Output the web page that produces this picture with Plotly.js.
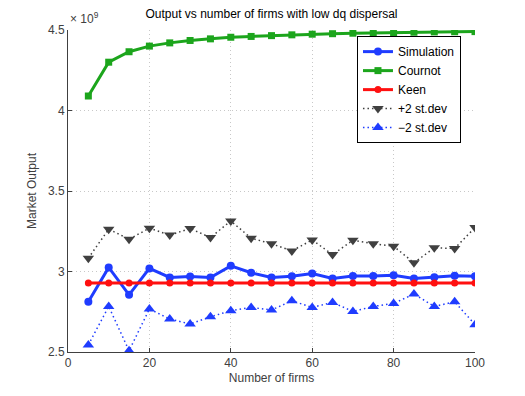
<!DOCTYPE html>
<html>
<head>
<meta charset="utf-8">
<script src="https://cdn.plot.ly/plotly-3.0.1.min.js"></script>
<style>
  html, body { margin: 0; padding: 0; background: #fff; }
  #chart { width: 525px; height: 396px; }
</style>
</head>
<body>
<div id="chart"></div>
<script>
// Market output (in units of 1e9) vs number of firms
const firms = [5, 10, 15, 20, 25, 30, 35, 40, 45, 50, 55, 60, 65, 70, 75, 80, 85, 90, 95, 100];

const simulation = [2.812, 3.025, 2.855, 3.019, 2.963, 2.969, 2.963, 3.035, 2.992, 2.963,
                    2.970, 2.988, 2.957, 2.972, 2.972, 2.976, 2.957, 2.965, 2.973, 2.970];
const cournot = [4.09, 4.30, 4.365, 4.40, 4.42, 4.435, 4.445, 4.455, 4.46, 4.465,
                 4.47, 4.474, 4.477, 4.48, 4.482, 4.484, 4.486, 4.488, 4.489, 4.49];
const keen = [2.928, 2.928, 2.928, 2.928, 2.928, 2.928, 2.928, 2.928, 2.928, 2.928,
              2.928, 2.928, 2.928, 2.928, 2.928, 2.928, 2.928, 2.928, 2.928, 2.928];
const plus2sd = [3.083, 3.263, 3.201, 3.269, 3.226, 3.267, 3.211, 3.314, 3.207, 3.172,
                 3.128, 3.196, 3.105, 3.194, 3.172, 3.157, 3.054, 3.147, 3.143, 3.273];
const minus2sd = [2.544, 2.783, 2.508, 2.767, 2.705, 2.674, 2.719, 2.756, 2.777, 2.761,
                  2.818, 2.777, 2.808, 2.752, 2.783, 2.802, 2.860, 2.783, 2.812, 2.670];

const xTicks = [0, 20, 40, 60, 80, 100];
const yTicks = [2.5, 3, 3.5, 4, 4.5];

const font = 'Liberation Sans, Arial, Helvetica, sans-serif';

const data = [{
    x: firms, y: simulation, name: 'Simulation',
    type: 'scatter', mode: 'lines+markers',
    line: { color: '#1f3cff', width: 3 },
    marker: { symbol: 'circle', size: 8, color: '#1f3cff' }
}, {
    x: firms, y: cournot, name: 'Cournot',
    type: 'scatter', mode: 'lines+markers',
    line: { color: '#1ca51c', width: 3 },
    marker: { symbol: 'square', size: 7, color: '#1ca51c' }
}, {
    x: firms, y: keen, name: 'Keen',
    type: 'scatter', mode: 'lines+markers',
    line: { color: '#ff1010', width: 3 },
    marker: { symbol: 'circle', size: 7, color: '#ff1010' }
}, {
    x: firms, y: plus2sd, name: '+2 st.dev',
    type: 'scatter', mode: 'lines+markers',
    line: { color: '#404040', width: 1.5, dash: '1.5px,3px' },
    marker: { symbol: 'triangle-down', size: 10, color: '#404040' }
}, {
    x: firms, y: minus2sd, name: '\u22122 st.dev',
    type: 'scatter', mode: 'lines+markers',
    line: { color: '#1f3cff', width: 1.5, dash: '1.5px,3px' },
    marker: { symbol: 'triangle-up', size: 10, color: '#1f3cff' }
}];

const layout = {
    width: 525, height: 396,
    margin: { l: 68, r: 50, t: 30, b: 44 },
    paper_bgcolor: '#fff', plot_bgcolor: '#fff',
    font: { family: font, size: 12, color: '#404040' },
    title: {
        text: 'Output vs number of firms with low dq dispersal',
        font: { family: font, size: 12, color: '#000' },
        x: 0.5, xref: 'paper', y: 0.975, yanchor: 'top'
    },
    xaxis: {
        range: [0, 100], tickvals: xTicks, ticktext: xTicks.map(String),
        showgrid: true, gridcolor: '#c8c8c8', griddash: '1px,3px', gridwidth: 1,
        showline: true, linecolor: '#404040', linewidth: 1,
        ticks: 'inside', ticklen: 4, tickcolor: '#404040',
        zeroline: false,
        title: { text: 'Number of firms', font: { family: font, size: 12, color: '#404040' }, standoff: 4 }
    },
    yaxis: {
        range: [2.5, 4.5], tickvals: yTicks, ticktext: yTicks.map(String),
        showgrid: true, gridcolor: '#c8c8c8', griddash: '1px,3px', gridwidth: 1,
        showline: true, linecolor: '#404040', linewidth: 1,
        ticks: 'inside', ticklen: 4, tickcolor: '#404040',
        zeroline: false,
        title: { text: 'Market Output', font: { family: font, size: 12, color: '#404040' }, standoff: 8 }
    },
    showlegend: true,
    legend: {
        x: 0.71, y: 0.981, xanchor: 'left', yanchor: 'top',
        bgcolor: '#fff', bordercolor: '#000', borderwidth: 1,
        font: { family: font, size: 12, color: '#000' },
        tracegroupgap: 0
    },
    annotations: [{
        text: '\u00d7 10<sup>9</sup>', xref: 'paper', yref: 'paper',
        x: 0, y: 1, xanchor: 'left', yanchor: 'bottom', yshift: 2,
        showarrow: false, font: { family: font, size: 12, color: '#404040' }
    }]
};

Plotly.newPlot('chart', data, layout, { displayModeBar: false, staticPlot: true });
</script>
</body>
</html>
